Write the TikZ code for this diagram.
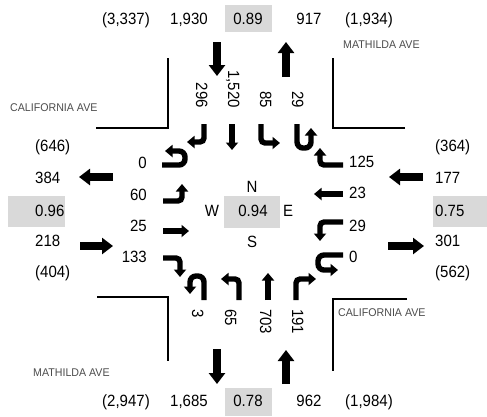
\documentclass[tikz,border=0pt]{standalone}
\usepackage{fontspec}
\setmainfont{Liberation Sans}
\newfontfamily\numfont[FakeStretch=0.92]{Liberation Sans}
\newfontfamily\streetfont[FakeStretch=0.95]{Liberation Sans}
\usetikzlibrary{arrows.meta}
\begin{document}
\begin{tikzpicture}[x=1pt,y=-1pt,
  num/.style={font=\numfont\fontsize{16.3}{19}\selectfont, inner sep=0pt, text height=11.6pt, text depth=0pt},
  street/.style={font=\streetfont\fontsize{11.2}{13}\selectfont, text=black!70, inner sep=0pt, anchor=west},
  graybox/.style={fill=black!15, draw=none},
  bigarrow/.style={line width=7.5pt, -{Triangle[length=11pt,width=16pt]}},
  lanearrow/.style={line width=5.4pt, rounded corners=4pt, -{Triangle[length=7.5pt,width=12pt]}},
  uturn/.style={line width=5.4pt, rounded corners=6pt, -{Triangle[length=7.5pt,width=12pt]}},
  curb/.style={line width=1.3pt}]
\useasboundingbox (0,0) rectangle (487,416);
% gray boxes
\fill[graybox] (225,5) rectangle (272,32);
\fill[graybox] (225,388) rectangle (272,416);
\fill[graybox] (8,196) rectangle (65,227);
\fill[graybox] (433,196) rectangle (487,227);
\fill[graybox] (224,196) rectangle (280,228);
% curbs
\draw[curb] (96,128) -- (168,128) -- (168,58);
\draw[curb] (405,128) -- (333,128) -- (333,58);
\draw[curb] (97,297) -- (168,297) -- (168,361);
\draw[curb] (407,299) -- (333,299) -- (333,371);
% street names
\node[street] (s1) at (10,108) {CALIFORNIA AVE};
\node[street] (s2) at (343,45) {MATHILDA AVE};
\node[street] (s3) at (33,373) {MATHILDA AVE};
\node[street] (s4) at (338,313) {CALIFORNIA AVE};
% top row
\node[num] (t1) at (126,19) {(3,337)};
\node[num] (t2) at (189,19) {1,930};
\node[num] (t3) at (248,19) {0.89};
\node[num] (t4) at (309,19) {917};
\node[num] (t5) at (369,19) {(1,934)};
% bottom row
\node[num] (b1) at (126,401) {(2,947)};
\node[num] (b2) at (189,401) {1,685};
\node[num] (b3) at (248,401) {0.78};
\node[num] (b4) at (309,401) {962};
\node[num] (b5) at (369,401) {(1,984)};
% left column
\node[num,anchor=west] (l1) at (35,146) {(646)};
\node[num,anchor=west] (l2) at (35,178) {384};
\node[num,anchor=west] (l3) at (35,211) {0.96};
\node[num,anchor=west] (l4) at (35,241) {218};
\node[num,anchor=west] (l5) at (35,272) {(404)};
% right column
\node[num,anchor=west] (r1) at (435,146) {(364)};
\node[num,anchor=west] (r2) at (435,178) {177};
\node[num,anchor=west] (r3) at (435,211) {0.75};
\node[num,anchor=west] (r4) at (435,241) {301};
\node[num,anchor=west] (r5) at (435,272) {(562)};
% center
\node[num] (cn) at (252,187) {N};
\node[num] (cw) at (212,211) {W};
\node[num] (cc) at (253,211) {0.94};
\node[num] (ce) at (288,211) {E};
\node[num] (cs) at (252,242) {S};
% big arrows
\draw[bigarrow] (217,42) -- (217,76);
\draw[bigarrow] (286,77) -- (286,42);
\draw[bigarrow] (217,349) -- (217,384);
\draw[bigarrow] (286,384) -- (286,350);
\draw[bigarrow] (113,177) -- (79,177);
\draw[bigarrow] (80,246) -- (113,246);
\draw[bigarrow] (423,177) -- (389,177);
\draw[bigarrow] (388,246) -- (424,246);
% north approach labels
\node[num,rotate=-90,anchor=east] (n1) at (202,108) {296};
\node[num,rotate=-90,anchor=east] (n2) at (234,108) {1,520};
\node[num,rotate=-90,anchor=east] (n3) at (266,108) {85};
\node[num,rotate=-90,anchor=east] (n4) at (298,108) {29};
% south approach labels
\node[num,rotate=-90,anchor=west] (p1) at (198,309) {3};
\node[num,rotate=-90,anchor=west] (p2) at (231,309) {65};
\node[num,rotate=-90,anchor=west] (p3) at (266,309) {703};
\node[num,rotate=-90,anchor=west] (p4) at (298,309) {191};
% west approach labels
\node[num,anchor=east] (w1) at (147,163) {0};
\node[num,anchor=east] (w2) at (147,195) {60};
\node[num,anchor=east] (w3) at (147,226) {25};
\node[num,anchor=east] (w4) at (147,257) {133};
% east approach labels
\node[num,anchor=west] (e1) at (349,162) {125};
\node[num,anchor=west] (e2) at (349,193) {23};
\node[num,anchor=west] (e3) at (349,226) {29};
\node[num,anchor=west] (e4) at (349,257) {0};
% north approach lane arrows
\draw[lanearrow] (204,124) -- (204,142) -- (187,142);
\draw[lanearrow] (232,124) -- (232,150);
\draw[lanearrow] (261,124) -- (261,143) -- (280,143);
\draw[uturn] (297,124) -- (297,148) -- (311,148) -- (311,128);
% west approach lane arrows
\draw[uturn] (162,165) -- (185,165) -- (185,151) -- (165,151);
\draw[lanearrow] (163,201) -- (182,201) -- (182,184);
\draw[lanearrow] (163,231) -- (189,231);
\draw[lanearrow] (163,258) -- (180,258) -- (180,277);
% south approach lane arrows
\draw[uturn] (204,300) -- (204,276) -- (190,276) -- (190,294);
\draw[lanearrow] (239,300) -- (239,279) -- (221,279);
\draw[lanearrow] (268,300) -- (268,273);
\draw[lanearrow] (296,300) -- (296,279) -- (316,279);
% east approach lane arrows
\draw[lanearrow] (343,165) -- (320,165) -- (320,148);
\draw[lanearrow] (343,194) -- (314,194);
\draw[lanearrow] (343,222) -- (320,222) -- (320,241);
\draw[uturn] (343,255) -- (318,255) -- (318,270) -- (338,270);
\end{tikzpicture}
\end{document}
